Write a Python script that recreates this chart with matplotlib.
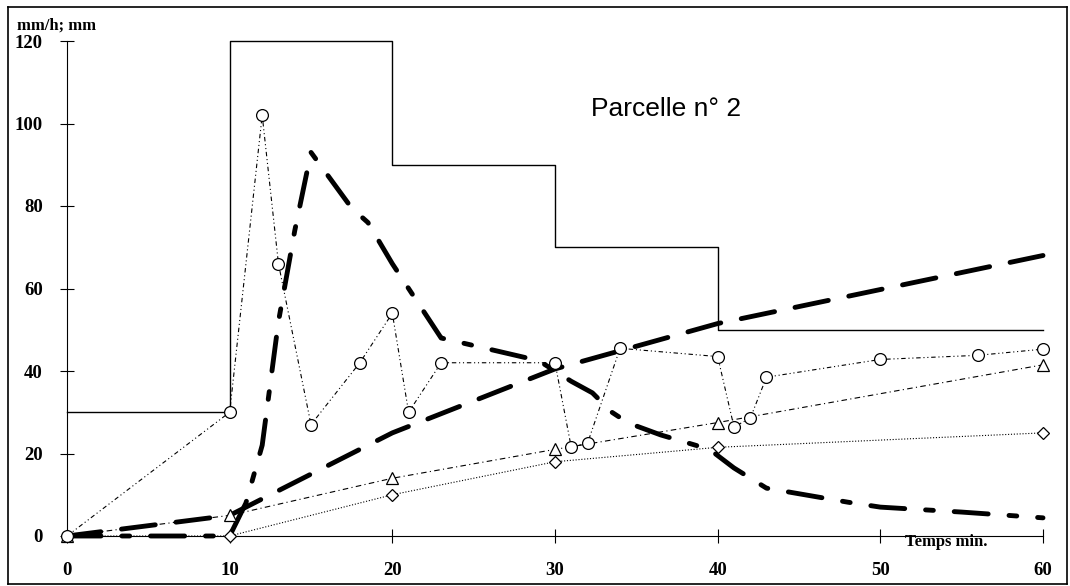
import matplotlib
matplotlib.use("Agg")
import matplotlib.pyplot as plt
from matplotlib.lines import Line2D

# rainfall intensity (mm/h), constant by block of time
t_rain = [0, 10, 20, 30, 40, 60]
i_rain = [30, 120, 90, 70, 50, 50]

# runoff intensity (mm/h)
t_runoff = [0, 10, 11, 12, 13, 14, 15, 17.5, 18.5, 20, 23, 29, 31, 32.3, 33.5,
            34.5, 36.5, 39.5, 41, 43, 48, 50, 55, 60]
i_runoff = [0, 0, 8, 22, 52, 74, 93, 79.5, 76, 66, 48, 42.5, 37.5, 34.7, 30,
            27.4, 24.5, 21, 16.5, 11.6, 8.2, 7, 5.8, 4.4]

# cumulative infiltration (mm)
t_infil = [0, 10, 20, 30, 40, 60]
c_infil = [0, 5, 25, 40.5, 51.5, 68]

# measured points
t_circ = [0, 10, 12, 13, 15, 18, 20, 21, 23, 30, 31, 32, 34, 40, 41, 42, 43, 50, 56, 60]
y_circ = [0, 30, 102, 66, 27, 42, 54, 30, 42, 42, 21.5, 22.5, 45.5, 43.5, 26.5,
          28.5, 38.5, 42.8, 43.8, 45.3]

t_tri = [0, 10, 20, 30, 40, 60]
y_tri = [0, 5, 14, 21, 27.5, 41.5]

t_dia = [0, 10, 20, 30, 40, 60]
y_dia = [0, 0, 10, 18, 21.5, 25]

x_ticks = [0, 10, 20, 30, 40, 50, 60]
y_ticks = [0, 20, 40, 60, 80, 100, 120]

serif = "Liberation Serif"

fig = plt.figure(figsize=(10.7, 5.86), dpi=100)
ax = fig.add_axes([67 / 1070, 1 - 536 / 586, (1043 - 67) / 1070, (536 - 41) / 586])

ax.plot(t_rain, i_rain, drawstyle="steps-post", color="black", lw=1.0, clip_on=False)

ax.plot(t_infil, c_infil, color="black", lw=3.5, linestyle=(0, (7, 4.3)),
        dash_capstyle="round", clip_on=False)
ax.plot(t_runoff, i_runoff, color="black", lw=3.5, linestyle=(0, (7, 4.3, 1.6, 4.3)),
        dash_capstyle="round", clip_on=False)

mk = dict(color="black", markerfacecolor="white", markeredgecolor="black",
          markeredgewidth=0.9, clip_on=False, zorder=4)
ax.plot(t_dia, y_dia, linestyle=(0, (1, 1.6)), lw=0.8, marker="D", markersize=6.5, **mk)
ax.plot(t_tri, y_tri, linestyle=(0, (5, 3, 1, 3)), lw=0.8, marker="^", markersize=9, **mk)
ax.plot(t_circ, y_circ, linestyle=(0, (4, 2.5, 1, 2.5, 1, 2.5)), lw=0.8,
        marker="o", markersize=8.5, **mk)

ax.set_xlim(0, 60)
ax.set_ylim(0, 120)
ax.set_xticks(x_ticks)
ax.set_yticks(y_ticks)
for side in ["top", "right"]:
    ax.spines[side].set_visible(False)
for side in ["left", "bottom"]:
    ax.spines[side].set_linewidth(0.8)
ax.tick_params(axis="x", direction="inout", length=10, width=0.8, pad=14)
ax.tick_params(axis="y", direction="inout", length=10, width=0.8, pad=12.5)
for lbl in ax.get_xticklabels() + ax.get_yticklabels():
    lbl.set_fontfamily(serif)
    lbl.set_fontsize(13.5)
    lbl.set_fontweight("bold")

ax.text(-3.1, 122.7, "mm/h; mm", family=serif, fontsize=12, fontweight="bold",
        ha="left", va="baseline", clip_on=False)
ax.text(51.5, -2.4, "Temps min.", family=serif, fontsize=12, fontweight="bold",
        ha="left", va="baseline", clip_on=False)
ax.text(36.8, 101.8, "Parcelle n° 2", family="Liberation Sans", fontsize=19,
        ha="center", va="baseline")

# frame around the whole figure
W, H = 1070, 586
for xs, ys in [((8, 1067), (7, 7)), ((8, 1067), (584, 584)),
               ((8, 8), (7, 584)), ((1067, 1067), (7, 584))]:
    fig.add_artist(Line2D([x / W for x in xs], [1 - y / H for y in ys],
                          color="black", lw=1.2))

fig.savefig("out.png", dpi=100, facecolor="white")
